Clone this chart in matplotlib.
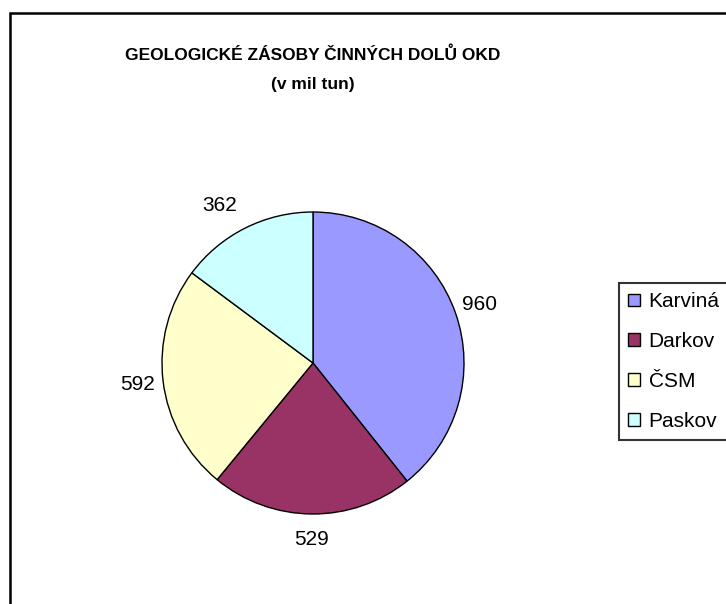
import matplotlib
matplotlib.use('Agg')
import matplotlib.pyplot as plt
from matplotlib.patches import Rectangle

plt.rcParams['font.family'] = ['Liberation Sans', 'DejaVu Sans']

# data
doly = ['Karviná', 'Darkov', 'ČSM', 'Paskov']
zasoby = [960, 529, 592, 362]
barvy = ['#9999FF', '#993366', '#FFFFCC', '#CCFFFF']
nadpis1 = 'GEOLOGICKÉ ZÁSOBY ČINNÝCH DOLŮ OKD'
nadpis2 = '(v mil tun)'

W, H = 726, 604
fig = plt.figure(figsize=(W/100.0, H/100.0), dpi=100)

# pie centred at (313, 363) px, radius 151 px
cx, cy, r = 313, 363, 151
ax = fig.add_axes([(cx-r)/W, (H-cy-r)/H, 2*r/W, 2*r/H])
wedges, texts = ax.pie(zasoby, colors=barvy, startangle=90, counterclock=False,
                       labels=[str(v) for v in zasoby], labeldistance=1.17,
                       radius=1.0,
                       wedgeprops=dict(edgecolor='black', linewidth=1.0),
                       textprops=dict(fontsize=15))
for t in texts:
    t.set_ha('center')
    t.set_va('center')
# Excel puts the small top-left label a bit further out
texts[3].set_x(texts[3].get_position()[0] - 0.09)
ax.set_xlim(-1, 1)
ax.set_ylim(-1, 1)
ax.set_aspect('equal')
ax.axis('off')

fig.text(cx/W, 1-60/H, nadpis1, ha='center', va='baseline', fontsize=12.5,
         fontweight='bold')
fig.text(cx/W, 1-89/H, nadpis2, ha='center', va='baseline', fontsize=12.5,
         fontweight='bold')

# chart area border
fig.patches.append(Rectangle((9.5/W, -0.05), 1.2, 1-12.5/H+0.05,
                             transform=fig.transFigure, fill=False,
                             edgecolor='black', linewidth=1.8))

leg = fig.legend(wedges, doly, loc='upper left',
                 bbox_to_anchor=(619/W, 1-283/H), borderaxespad=0,
                 fontsize=15, fancybox=False, frameon=True,
                 handlelength=0.57, handleheight=0.57, handletextpad=0.4,
                 labelspacing=1.0, borderpad=0.45)
leg.get_frame().set_edgecolor('black')
leg.get_frame().set_linewidth(1.5)

fig.savefig('out.png', dpi=100)
